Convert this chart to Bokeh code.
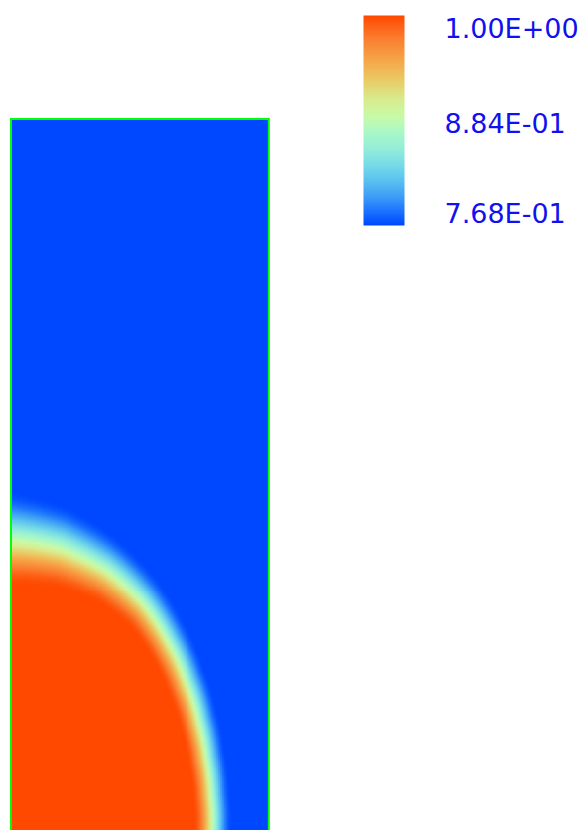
import numpy as np
from bokeh.plotting import figure
from bokeh.models import LinearColorMapper, ColorBar, Label, FixedTicker, Range1d
from bokeh.embed import file_html
from bokeh.resources import INLINE

# ---------------- data ----------------
value_min = 0.768
value_max = 1.0
tick_values = [1.0, 0.884, 0.768]

domain_width = 1.0
domain_height = 2.76

# interface (mid value) of the drop, polar about the bottom-left corner
interface_angle_deg = [0, 10, 20, 30, 40, 50, 60, 70, 80, 90]
interface_radius = [0.780, 0.786, 0.805, 0.840, 0.888, 0.950, 1.020, 1.075, 1.113, 1.130]
# full thickness of the transition band (orange -> blue)
band_width = [0.15, 0.152, 0.158, 0.168, 0.182, 0.20, 0.225, 0.27, 0.33, 0.38]

# colour stops of the scale (fraction of range, colour)
stop_pos = [0.0, 0.05, 0.13, 0.21, 0.29, 0.37, 0.44, 0.52, 0.60, 0.70, 0.79, 0.89, 1.0]
stop_col = ["#0048FF", "#1468FF", "#3A9AF8", "#5AC0F0", "#78DCE8", "#95EED8",
            "#A8F8C8", "#C8FAA8", "#D8EC8E", "#EBC863", "#F5A548", "#FA7F30", "#FF4800"]

# ---------------- palette ----------------
def hex2rgb(h):
    h = h.lstrip("#")
    return [int(h[i:i + 2], 16) for i in (0, 2, 4)]

rgb = np.array([hex2rgb(c) for c in stop_col], dtype=float)
tt = np.linspace(0, 1, 256)
palette = []
for t in tt:
    c = [np.interp(t, stop_pos, rgb[:, k]) for k in range(3)]
    palette.append("#%02x%02x%02x" % tuple(int(round(v)) for v in c))

mapper = LinearColorMapper(palette=palette, low=value_min, high=value_max)

# ---------------- field ----------------
nx, ny = 130, 358
xs = (np.arange(nx) + 0.5) * domain_width / nx
ys = (np.arange(ny) + 0.5) * domain_height / ny
X, Y = np.meshgrid(xs, ys)
R = np.hypot(X, Y)
TH = np.degrees(np.arctan2(Y, X))
rmid = np.interp(TH, interface_angle_deg, interface_radius)
wid = np.interp(TH, interface_angle_deg, band_width)
f = np.clip(0.5 - (R - rmid) / wid, 0, 1)
f = f * f * (3 - 2 * f)
field = value_min + (value_max - value_min) * f

# ---------------- figure ----------------
S = 257.8  # px per unit
W, H = 584, 830
p = figure(width=W, height=H, output_backend="svg", toolbar_location=None,
           x_range=Range1d(-10.5 / S, (W - 10.5) / S),
           y_range=Range1d(0, H / S), min_border=0)
p.axis.visible = False
p.grid.visible = False
p.outline_line_color = None
p.background_fill_color = "white"

p.image(image=[field], x=0, y=0, dw=domain_width, dh=domain_height, color_mapper=mapper)

p.line(x=[0, 0, domain_width, domain_width],
       y=[-0.1, domain_height, domain_height, -0.1],
       line_color="#00FF00", line_width=2, line_join="miter")

cb = ColorBar(color_mapper=mapper, location=(363, H - 225), width=41, height=210,
              padding=0, margin=0, ticker=FixedTicker(ticks=[]),
              major_label_text_font_size="0px", major_tick_line_color=None,
              bar_line_color=None, background_fill_alpha=0, border_line_color=None)
p.add_layout(cb, "center")

label_y = [H - 28, H - 123, H - 213]
for v, ly in zip(tick_values, label_y):
    p.add_layout(Label(x=444, y=ly, x_units="screen", y_units="screen",
                       text="%.2E" % v, text_font="DejaVu Sans",
                       text_font_size="27px", text_color="#1010F0",
                       text_baseline="middle", text_align="left"))

open("out.html", "w").write(file_html(p, INLINE))
